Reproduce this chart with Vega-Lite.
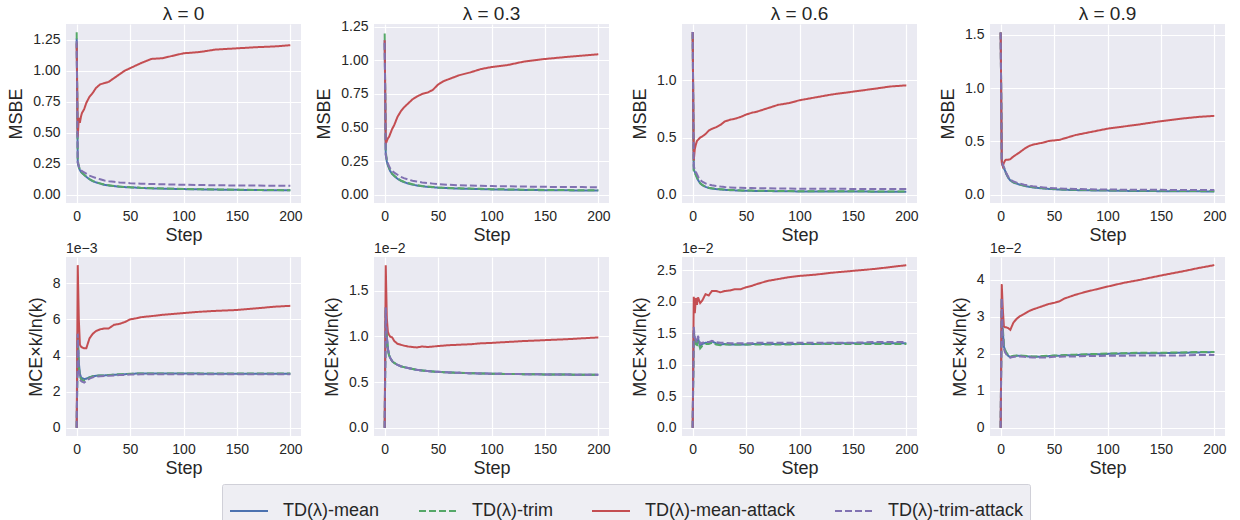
{
"$schema": "https://vega.github.io/schema/vega-lite/v6.json",
"padding": {"left": 7, "top": 4, "right": 5, "bottom": 0},
"background": "white",
"datasets": {
"t0": [
{"s":0,"mean":1.26,"trim":1.31,"matk":1.22,"tatk":1.24},
{"s":1,"mean":0.26,"trim":0.28,"matk":0.47,"tatk":0.26},
{"s":2,"mean":0.22,"trim":0.23,"matk":0.62,"tatk":0.23},
{"s":3,"mean":0.2,"trim":0.205,"matk":0.58,"tatk":0.21},
{"s":4,"mean":0.185,"trim":0.19,"matk":0.63,"tatk":0.2},
{"s":5,"mean":0.175,"trim":0.178,"matk":0.66,"tatk":0.19},
{"s":7,"mean":0.16,"trim":0.162,"matk":0.69,"tatk":0.18},
{"s":9,"mean":0.145,"trim":0.147,"matk":0.74,"tatk":0.17},
{"s":12,"mean":0.125,"trim":0.127,"matk":0.79,"tatk":0.155},
{"s":15,"mean":0.11,"trim":0.112,"matk":0.82,"tatk":0.145},
{"s":18,"mean":0.1,"trim":0.102,"matk":0.86,"tatk":0.135},
{"s":22,"mean":0.09,"trim":0.092,"matk":0.89,"tatk":0.125},
{"s":26,"mean":0.08,"trim":0.082,"matk":0.9,"tatk":0.115},
{"s":30,"mean":0.075,"trim":0.077,"matk":0.91,"tatk":0.11},
{"s":35,"mean":0.07,"trim":0.071,"matk":0.94,"tatk":0.105},
{"s":40,"mean":0.065,"trim":0.066,"matk":0.97,"tatk":0.1},
{"s":45,"mean":0.062,"trim":0.063,"matk":1.0,"tatk":0.097},
{"s":50,"mean":0.06,"trim":0.061,"matk":1.02,"tatk":0.094},
{"s":55,"mean":0.058,"trim":0.059,"matk":1.04,"tatk":0.092},
{"s":60,"mean":0.055,"trim":0.056,"matk":1.06,"tatk":0.09},
{"s":70,"mean":0.052,"trim":0.053,"matk":1.095,"tatk":0.087},
{"s":80,"mean":0.05,"trim":0.051,"matk":1.1,"tatk":0.085},
{"s":90,"mean":0.048,"trim":0.049,"matk":1.12,"tatk":0.083},
{"s":100,"mean":0.046,"trim":0.047,"matk":1.14,"tatk":0.081},
{"s":115,"mean":0.044,"trim":0.045,"matk":1.15,"tatk":0.079},
{"s":130,"mean":0.042,"trim":0.043,"matk":1.17,"tatk":0.077},
{"s":150,"mean":0.04,"trim":0.041,"matk":1.18,"tatk":0.075},
{"s":170,"mean":0.038,"trim":0.039,"matk":1.19,"tatk":0.074},
{"s":185,"mean":0.037,"trim":0.038,"matk":1.195,"tatk":0.073},
{"s":200,"mean":0.036,"trim":0.037,"matk":1.205,"tatk":0.072}
],
"t3": [
{"s":0,"mean":1.15,"trim":1.2,"matk":1.15,"tatk":1.13},
{"s":1,"mean":0.3,"trim":0.32,"matk":0.38,"tatk":0.3},
{"s":2,"mean":0.25,"trim":0.26,"matk":0.4,"tatk":0.26},
{"s":3,"mean":0.22,"trim":0.225,"matk":0.42,"tatk":0.235},
{"s":4,"mean":0.2,"trim":0.204,"matk":0.43,"tatk":0.215},
{"s":5,"mean":0.18,"trim":0.184,"matk":0.45,"tatk":0.2},
{"s":7,"mean":0.155,"trim":0.158,"matk":0.49,"tatk":0.18},
{"s":9,"mean":0.14,"trim":0.143,"matk":0.52,"tatk":0.165},
{"s":12,"mean":0.12,"trim":0.123,"matk":0.58,"tatk":0.15},
{"s":15,"mean":0.105,"trim":0.108,"matk":0.62,"tatk":0.135},
{"s":18,"mean":0.095,"trim":0.098,"matk":0.65,"tatk":0.125},
{"s":22,"mean":0.085,"trim":0.088,"matk":0.68,"tatk":0.115},
{"s":26,"mean":0.077,"trim":0.08,"matk":0.71,"tatk":0.105},
{"s":30,"mean":0.07,"trim":0.073,"matk":0.73,"tatk":0.1},
{"s":35,"mean":0.065,"trim":0.067,"matk":0.75,"tatk":0.093},
{"s":40,"mean":0.06,"trim":0.062,"matk":0.76,"tatk":0.088},
{"s":45,"mean":0.057,"trim":0.059,"matk":0.78,"tatk":0.084},
{"s":50,"mean":0.054,"trim":0.056,"matk":0.82,"tatk":0.08},
{"s":55,"mean":0.052,"trim":0.054,"matk":0.845,"tatk":0.078},
{"s":60,"mean":0.05,"trim":0.052,"matk":0.86,"tatk":0.075},
{"s":70,"mean":0.047,"trim":0.049,"matk":0.89,"tatk":0.072},
{"s":80,"mean":0.045,"trim":0.047,"matk":0.91,"tatk":0.07},
{"s":90,"mean":0.043,"trim":0.045,"matk":0.935,"tatk":0.068},
{"s":100,"mean":0.041,"trim":0.043,"matk":0.95,"tatk":0.066},
{"s":115,"mean":0.039,"trim":0.041,"matk":0.965,"tatk":0.064},
{"s":130,"mean":0.037,"trim":0.039,"matk":0.99,"tatk":0.062},
{"s":150,"mean":0.035,"trim":0.037,"matk":1.01,"tatk":0.06},
{"s":170,"mean":0.034,"trim":0.036,"matk":1.025,"tatk":0.059},
{"s":185,"mean":0.033,"trim":0.035,"matk":1.035,"tatk":0.058},
{"s":200,"mean":0.032,"trim":0.034,"matk":1.045,"tatk":0.057}
],
"t6": [
{"s":0,"mean":1.42,"trim":1.4,"matk":1.42,"tatk":1.42},
{"s":1,"mean":0.22,"trim":0.19,"matk":0.3,"tatk":0.25},
{"s":2,"mean":0.2,"trim":0.19,"matk":0.4,"tatk":0.22},
{"s":3,"mean":0.18,"trim":0.17,"matk":0.44,"tatk":0.2},
{"s":4,"mean":0.15,"trim":0.15,"matk":0.47,"tatk":0.18},
{"s":5,"mean":0.13,"trim":0.132,"matk":0.48,"tatk":0.16},
{"s":7,"mean":0.1,"trim":0.102,"matk":0.5,"tatk":0.13},
{"s":9,"mean":0.085,"trim":0.087,"matk":0.51,"tatk":0.115},
{"s":12,"mean":0.07,"trim":0.072,"matk":0.53,"tatk":0.1},
{"s":15,"mean":0.06,"trim":0.062,"matk":0.56,"tatk":0.09},
{"s":18,"mean":0.055,"trim":0.057,"matk":0.575,"tatk":0.083},
{"s":22,"mean":0.05,"trim":0.052,"matk":0.59,"tatk":0.077},
{"s":26,"mean":0.047,"trim":0.049,"matk":0.61,"tatk":0.072},
{"s":30,"mean":0.044,"trim":0.046,"matk":0.64,"tatk":0.068},
{"s":35,"mean":0.041,"trim":0.043,"matk":0.655,"tatk":0.065},
{"s":40,"mean":0.039,"trim":0.041,"matk":0.665,"tatk":0.063},
{"s":45,"mean":0.037,"trim":0.039,"matk":0.68,"tatk":0.061},
{"s":50,"mean":0.036,"trim":0.038,"matk":0.7,"tatk":0.06},
{"s":55,"mean":0.035,"trim":0.037,"matk":0.715,"tatk":0.059},
{"s":60,"mean":0.034,"trim":0.036,"matk":0.725,"tatk":0.058},
{"s":70,"mean":0.033,"trim":0.035,"matk":0.755,"tatk":0.057},
{"s":80,"mean":0.032,"trim":0.034,"matk":0.785,"tatk":0.056},
{"s":90,"mean":0.031,"trim":0.033,"matk":0.8,"tatk":0.055},
{"s":100,"mean":0.03,"trim":0.032,"matk":0.825,"tatk":0.054},
{"s":115,"mean":0.03,"trim":0.032,"matk":0.85,"tatk":0.053},
{"s":130,"mean":0.029,"trim":0.031,"matk":0.875,"tatk":0.053},
{"s":150,"mean":0.029,"trim":0.031,"matk":0.9,"tatk":0.052},
{"s":170,"mean":0.028,"trim":0.03,"matk":0.925,"tatk":0.052},
{"s":185,"mean":0.028,"trim":0.03,"matk":0.945,"tatk":0.051},
{"s":200,"mean":0.028,"trim":0.03,"matk":0.955,"tatk":0.051}
],
"t9": [
{"s":0,"mean":1.52,"trim":1.52,"matk":1.52,"tatk":1.52},
{"s":1,"mean":0.32,"trim":0.33,"matk":0.3,"tatk":0.32},
{"s":2,"mean":0.27,"trim":0.28,"matk":0.27,"tatk":0.28},
{"s":3,"mean":0.25,"trim":0.255,"matk":0.3,"tatk":0.26},
{"s":4,"mean":0.23,"trim":0.235,"matk":0.32,"tatk":0.24},
{"s":5,"mean":0.2,"trim":0.205,"matk":0.33,"tatk":0.21},
{"s":7,"mean":0.16,"trim":0.165,"matk":0.33,"tatk":0.17},
{"s":9,"mean":0.135,"trim":0.14,"matk":0.335,"tatk":0.145},
{"s":12,"mean":0.115,"trim":0.118,"matk":0.36,"tatk":0.125},
{"s":15,"mean":0.105,"trim":0.108,"matk":0.38,"tatk":0.115},
{"s":18,"mean":0.095,"trim":0.098,"matk":0.4,"tatk":0.105},
{"s":22,"mean":0.085,"trim":0.088,"matk":0.43,"tatk":0.095},
{"s":26,"mean":0.077,"trim":0.08,"matk":0.455,"tatk":0.087},
{"s":30,"mean":0.07,"trim":0.073,"matk":0.47,"tatk":0.08},
{"s":35,"mean":0.065,"trim":0.068,"matk":0.48,"tatk":0.075},
{"s":40,"mean":0.06,"trim":0.063,"matk":0.49,"tatk":0.07},
{"s":45,"mean":0.056,"trim":0.059,"matk":0.505,"tatk":0.066},
{"s":50,"mean":0.053,"trim":0.056,"matk":0.51,"tatk":0.063},
{"s":55,"mean":0.05,"trim":0.053,"matk":0.515,"tatk":0.06},
{"s":60,"mean":0.048,"trim":0.051,"matk":0.53,"tatk":0.058},
{"s":70,"mean":0.045,"trim":0.048,"matk":0.56,"tatk":0.055},
{"s":80,"mean":0.043,"trim":0.046,"matk":0.58,"tatk":0.053},
{"s":90,"mean":0.041,"trim":0.044,"matk":0.6,"tatk":0.051},
{"s":100,"mean":0.04,"trim":0.043,"matk":0.62,"tatk":0.05},
{"s":115,"mean":0.038,"trim":0.041,"matk":0.64,"tatk":0.049},
{"s":130,"mean":0.036,"trim":0.039,"matk":0.66,"tatk":0.048},
{"s":150,"mean":0.035,"trim":0.038,"matk":0.69,"tatk":0.047},
{"s":170,"mean":0.034,"trim":0.037,"matk":0.715,"tatk":0.046},
{"s":185,"mean":0.033,"trim":0.036,"matk":0.73,"tatk":0.046},
{"s":200,"mean":0.032,"trim":0.035,"matk":0.74,"tatk":0.045}
],
"b0": [
{"s":0,"mean":0,"trim":0,"matk":0,"tatk":0},
{"s":1,"mean":0.0052,"trim":0.005,"matk":0.009,"tatk":0.0052},
{"s":2,"mean":0.0036,"trim":0.0034,"matk":0.006,"tatk":0.0033},
{"s":3,"mean":0.003,"trim":0.00285,"matk":0.0046,"tatk":0.0027},
{"s":4,"mean":0.0028,"trim":0.0027,"matk":0.0045,"tatk":0.0026},
{"s":5,"mean":0.00275,"trim":0.00265,"matk":0.00445,"tatk":0.00255},
{"s":7,"mean":0.0027,"trim":0.0026,"matk":0.0044,"tatk":0.0025},
{"s":9,"mean":0.00272,"trim":0.00265,"matk":0.0044,"tatk":0.0026},
{"s":12,"mean":0.0028,"trim":0.00278,"matk":0.00495,"tatk":0.00272},
{"s":15,"mean":0.00285,"trim":0.00285,"matk":0.0052,"tatk":0.0028},
{"s":18,"mean":0.00288,"trim":0.00288,"matk":0.00535,"tatk":0.00283},
{"s":22,"mean":0.0029,"trim":0.0029,"matk":0.00545,"tatk":0.00285},
{"s":26,"mean":0.0029,"trim":0.0029,"matk":0.0055,"tatk":0.00287},
{"s":30,"mean":0.00292,"trim":0.00292,"matk":0.0055,"tatk":0.00288},
{"s":35,"mean":0.00294,"trim":0.00294,"matk":0.0057,"tatk":0.0029},
{"s":40,"mean":0.00295,"trim":0.00296,"matk":0.00575,"tatk":0.00292},
{"s":45,"mean":0.00297,"trim":0.00297,"matk":0.00585,"tatk":0.00293},
{"s":50,"mean":0.00298,"trim":0.00299,"matk":0.006,"tatk":0.00295},
{"s":55,"mean":0.003,"trim":0.003,"matk":0.00605,"tatk":0.00295},
{"s":60,"mean":0.003,"trim":0.003,"matk":0.00612,"tatk":0.00296},
{"s":70,"mean":0.003,"trim":0.003,"matk":0.00618,"tatk":0.00296},
{"s":80,"mean":0.003,"trim":0.003,"matk":0.00625,"tatk":0.00296},
{"s":90,"mean":0.003,"trim":0.003,"matk":0.0063,"tatk":0.00296},
{"s":100,"mean":0.003,"trim":0.003,"matk":0.00635,"tatk":0.00296},
{"s":115,"mean":0.003,"trim":0.003,"matk":0.00642,"tatk":0.00296},
{"s":130,"mean":0.00299,"trim":0.003,"matk":0.00647,"tatk":0.00296},
{"s":150,"mean":0.00299,"trim":0.003,"matk":0.00652,"tatk":0.00296},
{"s":170,"mean":0.00299,"trim":0.003,"matk":0.00662,"tatk":0.00296},
{"s":185,"mean":0.00299,"trim":0.003,"matk":0.0067,"tatk":0.00296},
{"s":200,"mean":0.00299,"trim":0.003,"matk":0.00675,"tatk":0.00296}
],
"b3": [
{"s":0,"mean":0,"trim":0,"matk":0,"tatk":0},
{"s":1,"mean":0.0132,"trim":0.013,"matk":0.0178,"tatk":0.0132},
{"s":2,"mean":0.01,"trim":0.0098,"matk":0.012,"tatk":0.01},
{"s":3,"mean":0.0087,"trim":0.0086,"matk":0.0105,"tatk":0.0087},
{"s":4,"mean":0.008,"trim":0.008,"matk":0.0102,"tatk":0.008},
{"s":5,"mean":0.0077,"trim":0.0077,"matk":0.01,"tatk":0.0077},
{"s":7,"mean":0.0073,"trim":0.0073,"matk":0.0099,"tatk":0.0073},
{"s":9,"mean":0.0071,"trim":0.0071,"matk":0.0095,"tatk":0.0071},
{"s":12,"mean":0.0069,"trim":0.0069,"matk":0.0092,"tatk":0.0069},
{"s":15,"mean":0.00675,"trim":0.00675,"matk":0.0091,"tatk":0.00675},
{"s":18,"mean":0.00665,"trim":0.00665,"matk":0.009,"tatk":0.00665},
{"s":22,"mean":0.00655,"trim":0.00655,"matk":0.0089,"tatk":0.00655},
{"s":26,"mean":0.00645,"trim":0.00645,"matk":0.00885,"tatk":0.00645},
{"s":30,"mean":0.00635,"trim":0.00635,"matk":0.0088,"tatk":0.00635},
{"s":35,"mean":0.00628,"trim":0.00628,"matk":0.0089,"tatk":0.00628},
{"s":40,"mean":0.00622,"trim":0.00622,"matk":0.00885,"tatk":0.00622},
{"s":45,"mean":0.00617,"trim":0.00617,"matk":0.0089,"tatk":0.00617},
{"s":50,"mean":0.00613,"trim":0.00613,"matk":0.00895,"tatk":0.00613},
{"s":55,"mean":0.0061,"trim":0.0061,"matk":0.009,"tatk":0.0061},
{"s":60,"mean":0.00607,"trim":0.00607,"matk":0.00905,"tatk":0.00607},
{"s":70,"mean":0.00602,"trim":0.00602,"matk":0.0091,"tatk":0.00602},
{"s":80,"mean":0.00598,"trim":0.00598,"matk":0.00915,"tatk":0.00598},
{"s":90,"mean":0.00595,"trim":0.00595,"matk":0.00925,"tatk":0.00595},
{"s":100,"mean":0.00593,"trim":0.00593,"matk":0.0093,"tatk":0.00593},
{"s":115,"mean":0.0059,"trim":0.0059,"matk":0.0094,"tatk":0.0059},
{"s":130,"mean":0.00588,"trim":0.00588,"matk":0.0095,"tatk":0.00588},
{"s":150,"mean":0.00585,"trim":0.00585,"matk":0.0096,"tatk":0.00585},
{"s":170,"mean":0.00583,"trim":0.00583,"matk":0.0097,"tatk":0.00583},
{"s":185,"mean":0.00582,"trim":0.00582,"matk":0.0098,"tatk":0.00582},
{"s":200,"mean":0.00581,"trim":0.00581,"matk":0.0099,"tatk":0.00581}
],
"b6": [
{"s":0,"mean":0,"trim":0,"matk":0,"tatk":0},
{"s":1,"mean":0.0155,"trim":0.015,"matk":0.0208,"tatk":0.016},
{"s":2,"mean":0.014,"trim":0.0135,"matk":0.0182,"tatk":0.0142},
{"s":3,"mean":0.0138,"trim":0.0133,"matk":0.0206,"tatk":0.014},
{"s":4,"mean":0.0132,"trim":0.0128,"matk":0.0195,"tatk":0.0135},
{"s":5,"mean":0.0142,"trim":0.0138,"matk":0.0207,"tatk":0.0146},
{"s":7,"mean":0.013,"trim":0.0126,"matk":0.0198,"tatk":0.0133},
{"s":9,"mean":0.0133,"trim":0.013,"matk":0.0202,"tatk":0.0135},
{"s":12,"mean":0.0135,"trim":0.0133,"matk":0.0212,"tatk":0.0136},
{"s":15,"mean":0.0134,"trim":0.0133,"matk":0.021,"tatk":0.0136},
{"s":18,"mean":0.0137,"trim":0.0135,"matk":0.0217,"tatk":0.0138},
{"s":22,"mean":0.0134,"trim":0.0132,"matk":0.0217,"tatk":0.0136},
{"s":26,"mean":0.0132,"trim":0.0131,"matk":0.0215,"tatk":0.0135},
{"s":30,"mean":0.0133,"trim":0.0132,"matk":0.0217,"tatk":0.0135},
{"s":35,"mean":0.0132,"trim":0.0132,"matk":0.0218,"tatk":0.0134},
{"s":40,"mean":0.0132,"trim":0.0132,"matk":0.022,"tatk":0.0134},
{"s":45,"mean":0.0132,"trim":0.0132,"matk":0.022,"tatk":0.0134},
{"s":50,"mean":0.0132,"trim":0.0132,"matk":0.0223,"tatk":0.0134},
{"s":55,"mean":0.0133,"trim":0.0132,"matk":0.0225,"tatk":0.0134},
{"s":60,"mean":0.0133,"trim":0.0132,"matk":0.0228,"tatk":0.0135},
{"s":70,"mean":0.0133,"trim":0.0132,"matk":0.0233,"tatk":0.0135},
{"s":80,"mean":0.0133,"trim":0.0132,"matk":0.0236,"tatk":0.0135},
{"s":90,"mean":0.0133,"trim":0.0132,"matk":0.0239,"tatk":0.0135},
{"s":100,"mean":0.0133,"trim":0.0133,"matk":0.0241,"tatk":0.0135},
{"s":115,"mean":0.0133,"trim":0.0133,"matk":0.0243,"tatk":0.0135},
{"s":130,"mean":0.0134,"trim":0.0133,"matk":0.0246,"tatk":0.0135},
{"s":150,"mean":0.0134,"trim":0.0133,"matk":0.0249,"tatk":0.0135},
{"s":170,"mean":0.0134,"trim":0.0133,"matk":0.0252,"tatk":0.0136},
{"s":185,"mean":0.0134,"trim":0.0133,"matk":0.0255,"tatk":0.0136},
{"s":200,"mean":0.0134,"trim":0.0133,"matk":0.0258,"tatk":0.0136}
],
"b9": [
{"s":0,"mean":0,"trim":0,"matk":0,"tatk":0},
{"s":1,"mean":0.035,"trim":0.035,"matk":0.0388,"tatk":0.035},
{"s":2,"mean":0.026,"trim":0.027,"matk":0.032,"tatk":0.025},
{"s":3,"mean":0.022,"trim":0.0225,"matk":0.0275,"tatk":0.0215},
{"s":4,"mean":0.021,"trim":0.0212,"matk":0.0272,"tatk":0.0205},
{"s":5,"mean":0.0203,"trim":0.0205,"matk":0.0272,"tatk":0.02},
{"s":7,"mean":0.0195,"trim":0.0197,"matk":0.027,"tatk":0.0193},
{"s":9,"mean":0.0191,"trim":0.0193,"matk":0.0265,"tatk":0.019},
{"s":12,"mean":0.0193,"trim":0.0195,"matk":0.0285,"tatk":0.0192},
{"s":15,"mean":0.0195,"trim":0.0196,"matk":0.0295,"tatk":0.0193},
{"s":18,"mean":0.0195,"trim":0.0196,"matk":0.0302,"tatk":0.0193},
{"s":22,"mean":0.0194,"trim":0.0195,"matk":0.0308,"tatk":0.0192},
{"s":26,"mean":0.0193,"trim":0.0194,"matk":0.0315,"tatk":0.0191},
{"s":30,"mean":0.0192,"trim":0.0193,"matk":0.032,"tatk":0.019},
{"s":35,"mean":0.0192,"trim":0.0193,"matk":0.0325,"tatk":0.019},
{"s":40,"mean":0.0193,"trim":0.0194,"matk":0.033,"tatk":0.019},
{"s":45,"mean":0.0194,"trim":0.0195,"matk":0.0335,"tatk":0.0191},
{"s":50,"mean":0.0195,"trim":0.0196,"matk":0.0338,"tatk":0.0192},
{"s":55,"mean":0.0195,"trim":0.0196,"matk":0.0342,"tatk":0.0192},
{"s":60,"mean":0.0196,"trim":0.0197,"matk":0.035,"tatk":0.0193},
{"s":70,"mean":0.0197,"trim":0.0198,"matk":0.036,"tatk":0.0193},
{"s":80,"mean":0.0198,"trim":0.0199,"matk":0.0368,"tatk":0.0194},
{"s":90,"mean":0.0199,"trim":0.02,"matk":0.0375,"tatk":0.0194},
{"s":100,"mean":0.02,"trim":0.0201,"matk":0.0382,"tatk":0.0195},
{"s":115,"mean":0.0201,"trim":0.0202,"matk":0.0392,"tatk":0.0195},
{"s":130,"mean":0.0202,"trim":0.0203,"matk":0.04,"tatk":0.0196},
{"s":150,"mean":0.0202,"trim":0.0203,"matk":0.0412,"tatk":0.0196},
{"s":170,"mean":0.0203,"trim":0.0204,"matk":0.0423,"tatk":0.0196},
{"s":185,"mean":0.0204,"trim":0.0205,"matk":0.0432,"tatk":0.0197},
{"s":200,"mean":0.0205,"trim":0.0205,"matk":0.044,"tatk":0.0197}
]
},
"columns": 4,
"spacing": {"row": 54, "column": 73},
"bounds": "flush",
"resolve": {"scale": {"color": "shared", "strokeDash": "shared"}, "legend": {"color": "shared", "strokeDash": "shared"}},
"concat": [
{
 "width": 235, "height": 179,
 "data": {"name": "t0"},
 "transform": [{"fold": ["mean","trim","matk","tatk"], "as": ["method","v"]}],
 "title": {"text": "λ = 0", "fontSize": 19, "anchor": "middle", "frame": "group", "offset": 0},
 "mark": {"type": "line", "strokeWidth": 2, "clip": true},
 "encoding": {
  "x": {"field": "s", "type": "quantitative", "scale": {"domain": [-10,210], "nice": false, "zero": false}, "axis": {"values": [0,50,100,150,200], "title": "Step"}},
  "y": {"field": "v", "type": "quantitative", "scale": {"domain": [-0.066,1.376], "nice": false, "zero": false}, "axis": {"values": [0,0.25,0.5,0.75,1,1.25], "format": ".2f", "title": "MSBE"}},
  "color": {"field": "method", "type": "nominal", "scale": {"domain": ["mean","trim","matk","tatk"], "range": ["#4C72B0","#55A868","#C44E52","#8172B2"]}, "legend": {"title": null, "orient": "none", "legendX": 156, "legendY": 460, "direction": "horizontal", "columns": 4, "symbolType": "stroke", "symbolSize": 1444, "symbolStrokeWidth": 2, "labelFontSize": 18, "labelColor": "#262626", "columnPadding": 35, "labelOffset": 14, "fillColor": "#EEEEF3", "strokeColor": "#D0D0D8", "padding": 7, "cornerRadius": 2, "labelExpr": "datum.label == 'mean' ? 'TD(λ)-mean' : datum.label == 'trim' ? 'TD(λ)-trim' : datum.label == 'matk' ? 'TD(λ)-mean-attack' : 'TD(λ)-trim-attack'"}},
  "strokeDash": {"field": "method", "type": "nominal", "scale": {"domain": ["mean","trim","matk","tatk"], "range": [[1,0],[7,3],[1,0],[7,3]]}, "legend": {"title": null, "orient": "none", "legendX": 156, "legendY": 460, "direction": "horizontal", "columns": 4, "symbolType": "stroke", "symbolSize": 1444, "symbolStrokeWidth": 2, "labelFontSize": 18, "labelColor": "#262626", "columnPadding": 35, "labelOffset": 14, "fillColor": "#EEEEF3", "strokeColor": "#D0D0D8", "padding": 7, "cornerRadius": 2, "labelExpr": "datum.label == 'mean' ? 'TD(λ)-mean' : datum.label == 'trim' ? 'TD(λ)-trim' : datum.label == 'matk' ? 'TD(λ)-mean-attack' : 'TD(λ)-trim-attack'"}}
 }
},
{
 "width": 235, "height": 179,
 "data": {"name": "t3"},
 "transform": [{"fold": ["mean","trim","matk","tatk"], "as": ["method","v"]}],
 "title": {"text": "λ = 0.3", "fontSize": 19, "anchor": "middle", "frame": "group", "offset": -4},
 "mark": {"type": "line", "strokeWidth": 2, "clip": true},
 "encoding": {
  "x": {"field": "s", "type": "quantitative", "scale": {"domain": [-10,210], "nice": false, "zero": false}, "axis": {"values": [0,50,100,150,200], "title": "Step"}},
  "y": {"field": "v", "type": "quantitative", "scale": {"domain": [-0.06,1.27], "nice": false, "zero": false}, "axis": {"values": [0,0.25,0.5,0.75,1,1.25], "format": ".2f", "title": "MSBE"}},
  "color": {"field": "method", "type": "nominal", "scale": {"domain": ["mean","trim","matk","tatk"], "range": ["#4C72B0","#55A868","#C44E52","#8172B2"]}, "legend": {"title": null, "orient": "none", "legendX": 156, "legendY": 460, "direction": "horizontal", "columns": 4, "symbolType": "stroke", "symbolSize": 1444, "symbolStrokeWidth": 2, "labelFontSize": 18, "labelColor": "#262626", "columnPadding": 35, "labelOffset": 14, "fillColor": "#EEEEF3", "strokeColor": "#D0D0D8", "padding": 7, "cornerRadius": 2, "labelExpr": "datum.label == 'mean' ? 'TD(λ)-mean' : datum.label == 'trim' ? 'TD(λ)-trim' : datum.label == 'matk' ? 'TD(λ)-mean-attack' : 'TD(λ)-trim-attack'"}},
  "strokeDash": {"field": "method", "type": "nominal", "scale": {"domain": ["mean","trim","matk","tatk"], "range": [[1,0],[7,3],[1,0],[7,3]]}, "legend": {"title": null, "orient": "none", "legendX": 156, "legendY": 460, "direction": "horizontal", "columns": 4, "symbolType": "stroke", "symbolSize": 1444, "symbolStrokeWidth": 2, "labelFontSize": 18, "labelColor": "#262626", "columnPadding": 35, "labelOffset": 14, "fillColor": "#EEEEF3", "strokeColor": "#D0D0D8", "padding": 7, "cornerRadius": 2, "labelExpr": "datum.label == 'mean' ? 'TD(λ)-mean' : datum.label == 'trim' ? 'TD(λ)-trim' : datum.label == 'matk' ? 'TD(λ)-mean-attack' : 'TD(λ)-trim-attack'"}}
 }
},
{
 "width": 235, "height": 179,
 "data": {"name": "t6"},
 "transform": [{"fold": ["mean","trim","matk","tatk"], "as": ["method","v"]}],
 "title": {"text": "λ = 0.6", "fontSize": 19, "anchor": "middle", "frame": "group", "offset": 0},
 "mark": {"type": "line", "strokeWidth": 2, "clip": true},
 "encoding": {
  "x": {"field": "s", "type": "quantitative", "scale": {"domain": [-10,210], "nice": false, "zero": false}, "axis": {"values": [0,50,100,150,200], "title": "Step"}},
  "y": {"field": "v", "type": "quantitative", "scale": {"domain": [-0.071,1.49], "nice": false, "zero": false}, "axis": {"values": [0,0.5,1], "format": ".1f", "title": "MSBE"}},
  "color": {"field": "method", "type": "nominal", "scale": {"domain": ["mean","trim","matk","tatk"], "range": ["#4C72B0","#55A868","#C44E52","#8172B2"]}, "legend": {"title": null, "orient": "none", "legendX": 156, "legendY": 460, "direction": "horizontal", "columns": 4, "symbolType": "stroke", "symbolSize": 1444, "symbolStrokeWidth": 2, "labelFontSize": 18, "labelColor": "#262626", "columnPadding": 35, "labelOffset": 14, "fillColor": "#EEEEF3", "strokeColor": "#D0D0D8", "padding": 7, "cornerRadius": 2, "labelExpr": "datum.label == 'mean' ? 'TD(λ)-mean' : datum.label == 'trim' ? 'TD(λ)-trim' : datum.label == 'matk' ? 'TD(λ)-mean-attack' : 'TD(λ)-trim-attack'"}},
  "strokeDash": {"field": "method", "type": "nominal", "scale": {"domain": ["mean","trim","matk","tatk"], "range": [[1,0],[7,3],[1,0],[7,3]]}, "legend": {"title": null, "orient": "none", "legendX": 156, "legendY": 460, "direction": "horizontal", "columns": 4, "symbolType": "stroke", "symbolSize": 1444, "symbolStrokeWidth": 2, "labelFontSize": 18, "labelColor": "#262626", "columnPadding": 35, "labelOffset": 14, "fillColor": "#EEEEF3", "strokeColor": "#D0D0D8", "padding": 7, "cornerRadius": 2, "labelExpr": "datum.label == 'mean' ? 'TD(λ)-mean' : datum.label == 'trim' ? 'TD(λ)-trim' : datum.label == 'matk' ? 'TD(λ)-mean-attack' : 'TD(λ)-trim-attack'"}}
 }
},
{
 "width": 235, "height": 179,
 "data": {"name": "t9"},
 "transform": [{"fold": ["mean","trim","matk","tatk"], "as": ["method","v"]}],
 "title": {"text": "λ = 0.9", "fontSize": 19, "anchor": "middle", "frame": "group", "offset": 0},
 "mark": {"type": "line", "strokeWidth": 2, "clip": true},
 "encoding": {
  "x": {"field": "s", "type": "quantitative", "scale": {"domain": [-10,210], "nice": false, "zero": false}, "axis": {"values": [0,50,100,150,200], "title": "Step"}},
  "y": {"field": "v", "type": "quantitative", "scale": {"domain": [-0.076,1.6], "nice": false, "zero": false}, "axis": {"values": [0,0.5,1,1.5], "format": ".1f", "title": "MSBE"}},
  "color": {"field": "method", "type": "nominal", "scale": {"domain": ["mean","trim","matk","tatk"], "range": ["#4C72B0","#55A868","#C44E52","#8172B2"]}, "legend": {"title": null, "orient": "none", "legendX": 156, "legendY": 460, "direction": "horizontal", "columns": 4, "symbolType": "stroke", "symbolSize": 1444, "symbolStrokeWidth": 2, "labelFontSize": 18, "labelColor": "#262626", "columnPadding": 35, "labelOffset": 14, "fillColor": "#EEEEF3", "strokeColor": "#D0D0D8", "padding": 7, "cornerRadius": 2, "labelExpr": "datum.label == 'mean' ? 'TD(λ)-mean' : datum.label == 'trim' ? 'TD(λ)-trim' : datum.label == 'matk' ? 'TD(λ)-mean-attack' : 'TD(λ)-trim-attack'"}},
  "strokeDash": {"field": "method", "type": "nominal", "scale": {"domain": ["mean","trim","matk","tatk"], "range": [[1,0],[7,3],[1,0],[7,3]]}, "legend": {"title": null, "orient": "none", "legendX": 156, "legendY": 460, "direction": "horizontal", "columns": 4, "symbolType": "stroke", "symbolSize": 1444, "symbolStrokeWidth": 2, "labelFontSize": 18, "labelColor": "#262626", "columnPadding": 35, "labelOffset": 14, "fillColor": "#EEEEF3", "strokeColor": "#D0D0D8", "padding": 7, "cornerRadius": 2, "labelExpr": "datum.label == 'mean' ? 'TD(λ)-mean' : datum.label == 'trim' ? 'TD(λ)-trim' : datum.label == 'matk' ? 'TD(λ)-mean-attack' : 'TD(λ)-trim-attack'"}}
 }
},
{
 "width": 235, "height": 179,
 "data": {"name": "b0"},
 "transform": [{"fold": ["mean","trim","matk","tatk"], "as": ["method","v"]}],
 "title": {"text": "1e−3", "fontSize": 14, "anchor": "start", "frame": "group", "offset": 1},
 "mark": {"type": "line", "strokeWidth": 2, "clip": true},
 "encoding": {
  "x": {"field": "s", "type": "quantitative", "scale": {"domain": [-10,210], "nice": false, "zero": false}, "axis": {"values": [0,50,100,150,200], "title": "Step"}},
  "y": {"field": "v", "type": "quantitative", "scale": {"domain": [-0.00045,0.00945], "nice": false, "zero": false}, "axis": {"values": [0,0.002,0.004,0.006,0.008], "labelExpr": "format(datum.value*1000, '.0f')", "title": "MCE×k/ln(k)"}},
  "color": {"field": "method", "type": "nominal", "scale": {"domain": ["mean","trim","matk","tatk"], "range": ["#4C72B0","#55A868","#C44E52","#8172B2"]}, "legend": {"title": null, "orient": "none", "legendX": 156, "legendY": 460, "direction": "horizontal", "columns": 4, "symbolType": "stroke", "symbolSize": 1444, "symbolStrokeWidth": 2, "labelFontSize": 18, "labelColor": "#262626", "columnPadding": 35, "labelOffset": 14, "fillColor": "#EEEEF3", "strokeColor": "#D0D0D8", "padding": 7, "cornerRadius": 2, "labelExpr": "datum.label == 'mean' ? 'TD(λ)-mean' : datum.label == 'trim' ? 'TD(λ)-trim' : datum.label == 'matk' ? 'TD(λ)-mean-attack' : 'TD(λ)-trim-attack'"}},
  "strokeDash": {"field": "method", "type": "nominal", "scale": {"domain": ["mean","trim","matk","tatk"], "range": [[1,0],[7,3],[1,0],[7,3]]}, "legend": {"title": null, "orient": "none", "legendX": 156, "legendY": 460, "direction": "horizontal", "columns": 4, "symbolType": "stroke", "symbolSize": 1444, "symbolStrokeWidth": 2, "labelFontSize": 18, "labelColor": "#262626", "columnPadding": 35, "labelOffset": 14, "fillColor": "#EEEEF3", "strokeColor": "#D0D0D8", "padding": 7, "cornerRadius": 2, "labelExpr": "datum.label == 'mean' ? 'TD(λ)-mean' : datum.label == 'trim' ? 'TD(λ)-trim' : datum.label == 'matk' ? 'TD(λ)-mean-attack' : 'TD(λ)-trim-attack'"}}
 }
},
{
 "width": 235, "height": 179,
 "data": {"name": "b3"},
 "transform": [{"fold": ["mean","trim","matk","tatk"], "as": ["method","v"]}],
 "title": {"text": "1e−2", "fontSize": 14, "anchor": "start", "frame": "group", "offset": 1},
 "mark": {"type": "line", "strokeWidth": 2, "clip": true},
 "encoding": {
  "x": {"field": "s", "type": "quantitative", "scale": {"domain": [-10,210], "nice": false, "zero": false}, "axis": {"values": [0,50,100,150,200], "title": "Step"}},
  "y": {"field": "v", "type": "quantitative", "scale": {"domain": [-0.00089,0.0187], "nice": false, "zero": false}, "axis": {"values": [0,0.005,0.01,0.015], "labelExpr": "format(datum.value*100, '.1f')", "title": "MCE×k/ln(k)"}},
  "color": {"field": "method", "type": "nominal", "scale": {"domain": ["mean","trim","matk","tatk"], "range": ["#4C72B0","#55A868","#C44E52","#8172B2"]}, "legend": {"title": null, "orient": "none", "legendX": 156, "legendY": 460, "direction": "horizontal", "columns": 4, "symbolType": "stroke", "symbolSize": 1444, "symbolStrokeWidth": 2, "labelFontSize": 18, "labelColor": "#262626", "columnPadding": 35, "labelOffset": 14, "fillColor": "#EEEEF3", "strokeColor": "#D0D0D8", "padding": 7, "cornerRadius": 2, "labelExpr": "datum.label == 'mean' ? 'TD(λ)-mean' : datum.label == 'trim' ? 'TD(λ)-trim' : datum.label == 'matk' ? 'TD(λ)-mean-attack' : 'TD(λ)-trim-attack'"}},
  "strokeDash": {"field": "method", "type": "nominal", "scale": {"domain": ["mean","trim","matk","tatk"], "range": [[1,0],[7,3],[1,0],[7,3]]}, "legend": {"title": null, "orient": "none", "legendX": 156, "legendY": 460, "direction": "horizontal", "columns": 4, "symbolType": "stroke", "symbolSize": 1444, "symbolStrokeWidth": 2, "labelFontSize": 18, "labelColor": "#262626", "columnPadding": 35, "labelOffset": 14, "fillColor": "#EEEEF3", "strokeColor": "#D0D0D8", "padding": 7, "cornerRadius": 2, "labelExpr": "datum.label == 'mean' ? 'TD(λ)-mean' : datum.label == 'trim' ? 'TD(λ)-trim' : datum.label == 'matk' ? 'TD(λ)-mean-attack' : 'TD(λ)-trim-attack'"}}
 }
},
{
 "width": 235, "height": 179,
 "data": {"name": "b6"},
 "transform": [{"fold": ["mean","trim","matk","tatk"], "as": ["method","v"]}],
 "title": {"text": "1e−2", "fontSize": 14, "anchor": "start", "frame": "group", "offset": 1},
 "mark": {"type": "line", "strokeWidth": 2, "clip": true},
 "encoding": {
  "x": {"field": "s", "type": "quantitative", "scale": {"domain": [-10,210], "nice": false, "zero": false}, "axis": {"values": [0,50,100,150,200], "title": "Step"}},
  "y": {"field": "v", "type": "quantitative", "scale": {"domain": [-0.0013,0.0271], "nice": false, "zero": false}, "axis": {"values": [0,0.005,0.01,0.015,0.02,0.025], "labelExpr": "format(datum.value*100, '.1f')", "title": "MCE×k/ln(k)"}},
  "color": {"field": "method", "type": "nominal", "scale": {"domain": ["mean","trim","matk","tatk"], "range": ["#4C72B0","#55A868","#C44E52","#8172B2"]}, "legend": {"title": null, "orient": "none", "legendX": 156, "legendY": 460, "direction": "horizontal", "columns": 4, "symbolType": "stroke", "symbolSize": 1444, "symbolStrokeWidth": 2, "labelFontSize": 18, "labelColor": "#262626", "columnPadding": 35, "labelOffset": 14, "fillColor": "#EEEEF3", "strokeColor": "#D0D0D8", "padding": 7, "cornerRadius": 2, "labelExpr": "datum.label == 'mean' ? 'TD(λ)-mean' : datum.label == 'trim' ? 'TD(λ)-trim' : datum.label == 'matk' ? 'TD(λ)-mean-attack' : 'TD(λ)-trim-attack'"}},
  "strokeDash": {"field": "method", "type": "nominal", "scale": {"domain": ["mean","trim","matk","tatk"], "range": [[1,0],[7,3],[1,0],[7,3]]}, "legend": {"title": null, "orient": "none", "legendX": 156, "legendY": 460, "direction": "horizontal", "columns": 4, "symbolType": "stroke", "symbolSize": 1444, "symbolStrokeWidth": 2, "labelFontSize": 18, "labelColor": "#262626", "columnPadding": 35, "labelOffset": 14, "fillColor": "#EEEEF3", "strokeColor": "#D0D0D8", "padding": 7, "cornerRadius": 2, "labelExpr": "datum.label == 'mean' ? 'TD(λ)-mean' : datum.label == 'trim' ? 'TD(λ)-trim' : datum.label == 'matk' ? 'TD(λ)-mean-attack' : 'TD(λ)-trim-attack'"}}
 }
},
{
 "width": 235, "height": 179,
 "data": {"name": "b9"},
 "transform": [{"fold": ["mean","trim","matk","tatk"], "as": ["method","v"]}],
 "title": {"text": "1e−2", "fontSize": 14, "anchor": "start", "frame": "group", "offset": 1},
 "mark": {"type": "line", "strokeWidth": 2, "clip": true},
 "encoding": {
  "x": {"field": "s", "type": "quantitative", "scale": {"domain": [-10,210], "nice": false, "zero": false}, "axis": {"values": [0,50,100,150,200], "title": "Step"}},
  "y": {"field": "v", "type": "quantitative", "scale": {"domain": [-0.0022,0.0462], "nice": false, "zero": false}, "axis": {"values": [0,0.01,0.02,0.03,0.04], "labelExpr": "format(datum.value*100, '.0f')", "title": "MCE×k/ln(k)"}},
  "color": {"field": "method", "type": "nominal", "scale": {"domain": ["mean","trim","matk","tatk"], "range": ["#4C72B0","#55A868","#C44E52","#8172B2"]}, "legend": {"title": null, "orient": "none", "legendX": 156, "legendY": 460, "direction": "horizontal", "columns": 4, "symbolType": "stroke", "symbolSize": 1444, "symbolStrokeWidth": 2, "labelFontSize": 18, "labelColor": "#262626", "columnPadding": 35, "labelOffset": 14, "fillColor": "#EEEEF3", "strokeColor": "#D0D0D8", "padding": 7, "cornerRadius": 2, "labelExpr": "datum.label == 'mean' ? 'TD(λ)-mean' : datum.label == 'trim' ? 'TD(λ)-trim' : datum.label == 'matk' ? 'TD(λ)-mean-attack' : 'TD(λ)-trim-attack'"}},
  "strokeDash": {"field": "method", "type": "nominal", "scale": {"domain": ["mean","trim","matk","tatk"], "range": [[1,0],[7,3],[1,0],[7,3]]}, "legend": {"title": null, "orient": "none", "legendX": 156, "legendY": 460, "direction": "horizontal", "columns": 4, "symbolType": "stroke", "symbolSize": 1444, "symbolStrokeWidth": 2, "labelFontSize": 18, "labelColor": "#262626", "columnPadding": 35, "labelOffset": 14, "fillColor": "#EEEEF3", "strokeColor": "#D0D0D8", "padding": 7, "cornerRadius": 2, "labelExpr": "datum.label == 'mean' ? 'TD(λ)-mean' : datum.label == 'trim' ? 'TD(λ)-trim' : datum.label == 'matk' ? 'TD(λ)-mean-attack' : 'TD(λ)-trim-attack'"}}
 }
}
],
"config": {
 "font": "Liberation Sans",
 "view": {"fill": "#EAEAF2", "stroke": null},
 "axis": {"domain": false, "ticks": false, "grid": true, "gridColor": "#FFFFFF", "gridWidth": 1.2, "labelFontSize": 14, "labelColor": "#262626", "labelPadding": 6, "labelFlush": false, "titleFontSize": 18, "titleFontWeight": "normal", "titleColor": "#262626"},
 "axisX": {"titlePadding": 3},
 "axisY": {"titlePadding": 7},
 "title": {"fontSize": 19, "fontWeight": "normal", "color": "#262626"}
}
}
